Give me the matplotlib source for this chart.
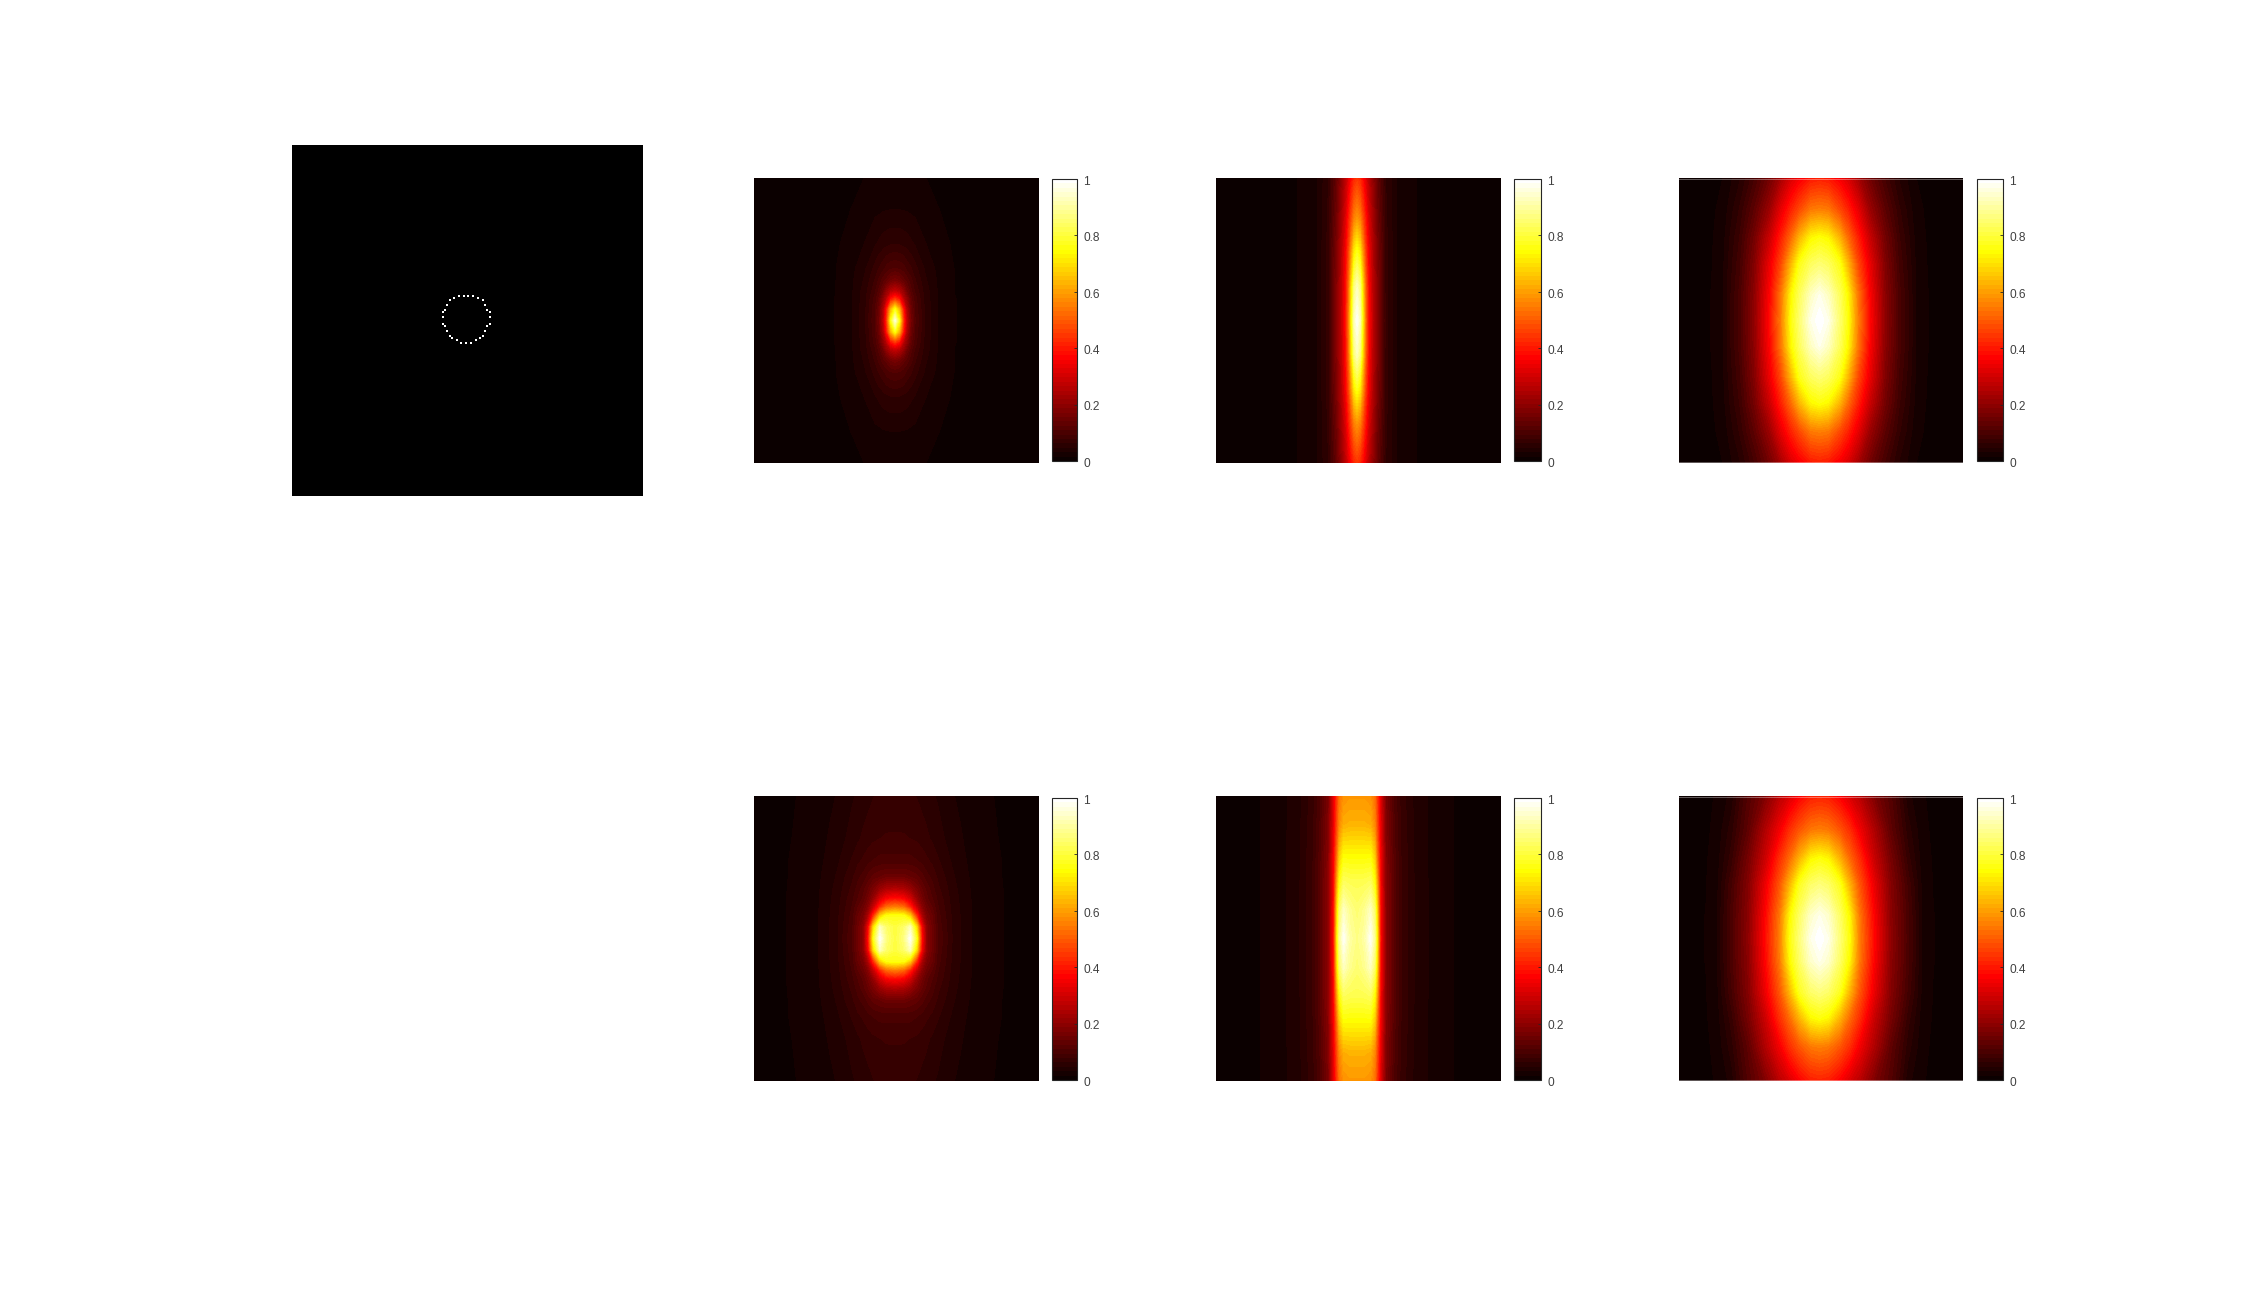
import numpy as np
import matplotlib
matplotlib.use("Agg")
from matplotlib import pyplot as plt
from matplotlib.cm import ScalarMappable
from matplotlib.colors import Normalize
from matplotlib.transforms import ScaledTranslation

plt.rcParams['font.family'] = ['Liberation Sans', 'DejaVu Sans']

W, H = 2243, 1305

# dots of the ring in the first panel, in pixels of a 350 x 350 image
ring_x = [167, 171.7, 176.3, 181, 162.3, 185.7, 158, 190.7, 155.3, 193, 153, 195.3, 197.7,
          150.7, 150.7, 197.7, 150.7, 153, 197.7, 195.3, 155.3, 193, 158, 160.3, 190.7,
          188.3, 184, 164.7, 169.3, 174, 178.7]
ring_y = [150.7, 150.7, 150.7, 150.7, 153, 153, 155.3, 155.3, 159.7, 159.7, 164.7, 164.7,
          166.7, 166.7, 171.7, 171.7, 178.7, 181, 178.7, 181, 185.7, 185.7, 190.7, 193,
          190.7, 193, 195.3, 195.3, 197.7, 197.7, 197.7]

# the fields are mirror symmetric, so one quadrant of each is read off the picture:
# offsets from the centre in image cells, values on the 0-1 colour scale
dx_a = [0, 1.5, 3, 4, 5.5, 7, 10.5, 15, 21, 30, 52]
dy_a = [0, 3.9, 7.8, 10.4, 14, 18.2, 27, 39, 52]
z_a = [[.95, .75, .42, .27, .16, .11, .06, .031, .016, .008, .003],
       [.75, .62, .38, .25, .15, .107, .059, .031, .016, .008, .003],
       [.42, .37, .25, .2, .13, .1, .057, .03, .016, .008, .003],
       [.27, .25, .2, .155, .115, .09, .055, .03, .015, .008, .003],
       [.165, .155, .13, .12, .1, .08, .05, .029, .015, .008, .003],
       [.11, .107, .1, .09, .08, .068, .045, .027, .015, .008, .003],
       [.06, .06, .057, .055, .05, .045, .032, .022, .013, .007, .003],
       [.031, .031, .03, .03, .028, .027, .022, .016, .012, .007, .003],
       [.019, .019, .019, .018, .017, .016, .015, .012, .009, .006, .003]]

dx_b = [0, 1, 2, 3, 4, 5.5, 7, 10, 14, 21, 30, 52]
dy_b = [0, 12, 24, 36, 52]
z_b = [[.98, .92, .72, .52, .38, .27, .2, .07, .031, .0156, .008, .003],
       [.92, .86, .68, .5, .37, .26, .19, .07, .031, .0156, .008, .003],
       [.76, .71, .58, .45, .35, .25, .18, .07, .031, .0156, .008, .003],
       [.58, .55, .47, .39, .31, .23, .16, .066, .031, .0156, .008, .003],
       [.42, .4, .36, .31, .26, .2, .14, .062, .03, .0156, .008, .003]]

dx_c = [0, 3, 7, 10, 13.5, 17.5, 23, 28, 34, 38, 52]
dy_c = [0, 9, 20, 29, 39, 52]
z_c = [[1, .97, .85, .75, .55, .38, .2, .1, .03, .016, .004],
       [.97, .93, .83, .73, .54, .37, .195, .1, .03, .016, .004],
       [.85, .83, .76, .63, .47, .34, .18, .09, .028, .015, .004],
       [.75, .73, .63, .52, .41, .29, .16, .08, .025, .014, .004],
       [.55, .54, .47, .41, .33, .22, .125, .065, .02, .013, .004],
       [.38, .37, .33, .29, .22, .15, .085, .042, .015, .011, .004]]

dx_d = [0, 3, 5.3, 7.6, 9.4, 11, 13, 15, 20, 23, 27, 38, 52]
dy_d = [0, 4, 8, 11, 14, 17.5, 21.6, 27, 35, 52]
z_d = [[.8, .86, .98, .76, .38, .2, .15, .11, .0625, .047, .031, .0156, .005],
       [.8, .84, .92, .68, .35, .2, .15, .105, .062, .047, .031, .0156, .005],
       [.76, .75, .66, .42, .24, .17, .14, .1, .06, .046, .031, .0156, .005],
       [.55, .52, .42, .28, .19, .15, .125, .095, .058, .045, .03, .0156, .005],
       [.38, .36, .3, .21, .16, .13, .11, .09, .056, .044, .03, .0156, .005],
       [.25, .24, .21, .17, .14, .12, .1, .082, .054, .042, .029, .0155, .005],
       [.15, .15, .14, .13, .115, .1, .09, .075, .05, .04, .028, .015, .005],
       [.1, .1, .1, .095, .09, .082, .075, .065, .045, .037, .026, .015, .005],
       [.08, .08, .078, .075, .07, .066, .06, .053, .04, .033, .024, .014, .005],
       [.065, .064, .062, .06, .056, .053, .048, .044, .032, .027, .021, .013, .005]]

dx_e = [0, 2.5, 4.7, 6.2, 7, 8.2, 10, 13, 15.4, 20, 25, 34, 52]
dy_e = [0, 10, 20, 30, 40, 52]
z_e = [[.87, .9, .98, .88, .72, .38, .2, .12, .08, .047, .031, .0156, .005],
       [.85, .88, .93, .84, .68, .37, .2, .12, .08, .047, .031, .0156, .005],
       [.82, .82, .83, .74, .6, .36, .2, .12, .08, .047, .031, .0156, .005],
       [.73, .73, .73, .65, .52, .35, .19, .115, .078, .046, .03, .0156, .005],
       [.63, .63, .62, .56, .47, .33, .18, .11, .075, .045, .03, .0155, .005],
       [.58, .58, .57, .52, .44, .32, .17, .105, .072, .044, .03, .0155, .005]]

dx_f = [0, 3, 7, 10.5, 14, 19, 25, 31, 36, 40, 52]
dy_f = [0, 8, 19, 28, 38, 52]
z_f = [[1, .97, .86, .75, .55, .38, .2, .1, .03, .016, .005],
       [.97, .94, .84, .73, .54, .37, .195, .1, .03, .016, .005],
       [.86, .84, .77, .63, .49, .34, .185, .09, .028, .015, .005],
       [.75, .73, .63, .52, .43, .29, .165, .07, .024, .014, .005],
       [.55, .54, .49, .43, .35, .25, .13, .055, .02, .013, .005],
       [.39, .38, .34, .29, .25, .17, .11, .035, .017, .012, .005]]

cbar_ticks = [0, 0.2, 0.4, 0.6, 0.8, 1]
cbar_labels = ['0', '0.2', '0.4', '0.6', '0.8', '1']


def axes_px(left, top, right, bottom):
    # axes from pixel edges of the output picture
    return fig.add_axes([left / W, 1 - bottom / H, (right - left) / W, (bottom - top) / H])


def mirrored(dx, dy, z):
    z = np.array(z)
    z = np.hstack([z[:, :0:-1], z])
    z = np.vstack([z[:0:-1], z])
    xs = np.r_[-np.array(dx[:0:-1]), dx]
    ys = np.r_[-np.array(dy[:0:-1]), dy]
    return xs, ys, z


def field(box, cbar_box, dx, dy, z, pale_edge=False):
    ax = axes_px(*box)
    xs, ys, zz = mirrored(dx, dy, z)
    # a norm for each panel, a shared one resets the colorbar labels
    ax.contourf(xs, ys, zz, levels=np.linspace(0, 1, 65), cmap=hot, norm=Normalize(0, 1), extend='both')
    ax.set_xlim(-49.5, 50.5)
    ax.set_ylim(-50, 50)
    ax.axis('off')
    if pale_edge:
        # last two panels have a half covered row at top and bottom
        ax.axhline(49.82, color='white', alpha=0.35, lw=0.72)
        ax.axhline(-49.82, color='white', alpha=0.35, lw=0.72)

    cax = axes_px(*cbar_box)
    cb = fig.colorbar(ScalarMappable(norm=Normalize(0, 1), cmap=hot), cax=cax)
    cb.set_ticks(cbar_ticks)
    cb.set_ticklabels(cbar_labels)
    cb.outline.set_linewidth(0.8)
    cb.outline.set_edgecolor('#262626')
    cax.tick_params(direction='in', length=2, width=0.6, color='#262626',
                    labelsize=8.6, labelcolor='#404040', pad=4.5)
    # labels sit a little under their ticks
    for lab in cax.get_yticklabels():
        lab.set_transform(lab.get_transform() + ScaledTranslation(0, -0.013, fig.dpi_scale_trans))


hot = plt.get_cmap('hot', 64)

fig = plt.figure(figsize=(W / 100, H / 100), dpi=100)

ax0 = axes_px(292, 145, 643, 496)
ax0.set_facecolor('black')
ax0.scatter(ring_x, ring_y, s=4.4, marker='s', c='white', linewidths=0)
ax0.set_xlim(0, 351)
ax0.set_ylim(351, 0)
ax0.set_xticks([])
ax0.set_yticks([])
for side in ax0.spines.values():
    side.set_visible(False)

field((754, 178, 1039, 463), (1052, 179, 1077, 461), dx_a, dy_a, z_a)
field((1216, 178, 1501, 463), (1514, 179, 1541, 461), dx_b, dy_b, z_b)
field((1679, 178, 1963, 463), (1977, 179, 2003, 461), dx_c, dy_c, z_c, pale_edge=True)
field((754, 796, 1039, 1081), (1052, 798, 1077, 1080), dx_d, dy_d, z_d)
field((1216, 796, 1501, 1081), (1514, 798, 1541, 1080), dx_e, dy_e, z_e)
field((1679, 796, 1963, 1081), (1977, 798, 2003, 1080), dx_f, dy_f, z_f, pale_edge=True)

fig.savefig('out.png', dpi=100)
